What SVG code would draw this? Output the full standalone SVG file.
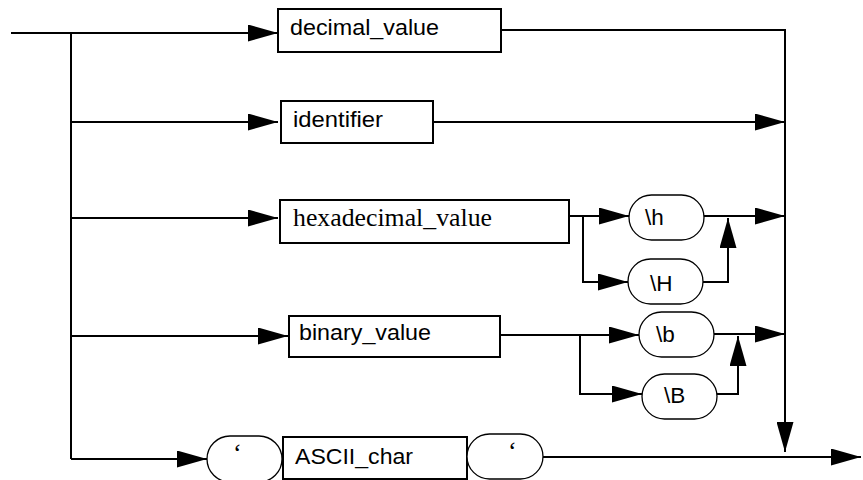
<svg xmlns="http://www.w3.org/2000/svg" width="863" height="480" viewBox="0 0 863 480">
<style>
.box{fill:#fff;stroke:#000;stroke-width:2}
.oval{fill:#fff;stroke:#000;stroke-width:1.3}
.ln{fill:none;stroke:#000;stroke-width:2}
.sans{font-family:"Liberation Sans",Arial,sans-serif;font-size:22.5px;fill:#000}
.serif{font-family:"Liberation Serif","Times New Roman",serif;font-size:26px;fill:#000}
</style>
<defs>
<marker id="ah" markerUnits="userSpaceOnUse" markerWidth="30" markerHeight="17" refX="30" refY="8.5" orient="auto">
<path d="M0,0 L30,8.5 L0,17 Z" fill="#000"/>
</marker>
</defs>
<rect width="863" height="480" fill="#fff"/>
<g id="connectors" class="ln">
<path d="M11,33 H278" marker-end="url(#ah)"/>
<path d="M71,33 V459"/>
<path d="M71,122 H278" marker-end="url(#ah)"/>
<path d="M71,218 H278" marker-end="url(#ah)"/>
<path d="M71,336 H288" marker-end="url(#ah)"/>
<path d="M71,459 H207" marker-end="url(#ah)"/>
<path d="M501,30 H785 V452" marker-end="url(#ah)"/>
<path d="M433,122 H785" marker-end="url(#ah)"/>
<path d="M569,216 H629" marker-end="url(#ah)"/>
<path d="M583,216 V282 H628" marker-end="url(#ah)"/>
<path d="M704,216 H785" marker-end="url(#ah)"/>
<path d="M703,282 H728 V218" marker-end="url(#ah)"/>
<path d="M500,335 H639" marker-end="url(#ah)"/>
<path d="M580,335 V394 H642" marker-end="url(#ah)"/>
<path d="M714,334 H785" marker-end="url(#ah)"/>
<path d="M717,394 H738 V336" marker-end="url(#ah)"/>
<path d="M543,457 H861" marker-end="url(#ah)"/>
</g>
<g id="decimal_value"><rect class="box" x="278" y="9" width="223" height="43"/><text class="sans" x="290" y="35" textLength="149" lengthAdjust="spacingAndGlyphs">decimal_value</text></g>
<g id="identifier"><rect class="box" x="281" y="101" width="152" height="42"/><text class="sans" x="293" y="127" textLength="90" lengthAdjust="spacingAndGlyphs">identifier</text></g>
<g id="hexadecimal_value"><rect class="box" x="280" y="200" width="289" height="43"/><text class="serif" x="293" y="226" textLength="199" lengthAdjust="spacingAndGlyphs">hexadecimal_value</text></g>
<g id="binary_value"><rect class="box" x="289" y="316" width="211" height="41"/><text class="sans" x="299" y="340" textLength="132" lengthAdjust="spacingAndGlyphs">binary_value</text></g>
<g id="h_lower"><rect class="oval" x="629" y="195" width="75" height="45" rx="22.5"/><text class="sans" x="645" y="225" font-size="22">\h</text></g>
<g id="h_upper"><rect class="oval" x="628" y="259" width="75" height="45" rx="22.5"/><text class="sans" x="650" y="291" font-size="22">\H</text></g>
<g id="b_lower"><rect class="oval" x="639" y="312" width="75" height="45" rx="22.5"/><text class="sans" x="656" y="342" font-size="22">\b</text></g>
<g id="b_upper"><rect class="oval" x="642" y="374" width="75" height="45" rx="22.5"/><text class="sans" x="664" y="403" font-size="22">\B</text></g>
<g id="quote_open"><rect class="oval" x="207" y="436" width="75" height="46" rx="23"/><text class="serif" x="233" y="461" font-size="22">‘</text></g>
<g id="ASCII_char"><rect class="box" x="283" y="437" width="184" height="42"/><text class="sans" x="295" y="464" textLength="118" lengthAdjust="spacingAndGlyphs">ASCII_char</text></g>
<g id="quote_close"><rect class="oval" x="467" y="434" width="76" height="45" rx="22.5"/><text class="serif" x="508" y="459" font-size="22">‘</text></g>
</svg>
